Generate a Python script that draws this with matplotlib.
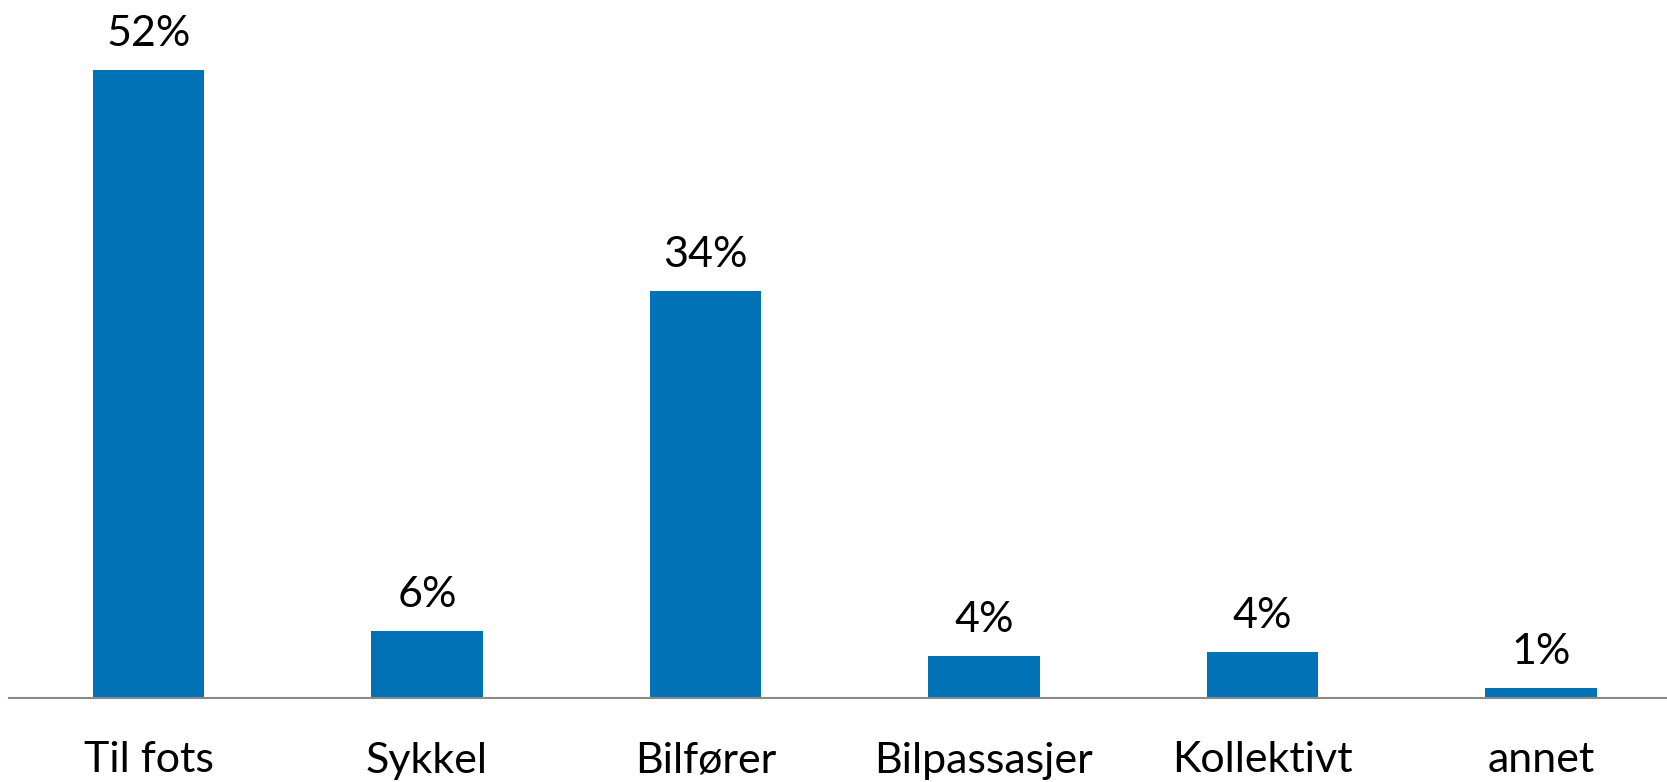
import matplotlib
matplotlib.use("Agg")
import matplotlib.pyplot as plt
import numpy as np

# share of trips by travel mode (%)
categories = ['Til fots', 'Sykkel', 'Bilfører', 'Bilpassasjer', 'Kollektivt', 'annet']
values = [52, 5.55, 33.7, 3.45, 3.8, 0.8]
labels = ['52%', '6%', '34%', '4%', '4%', '1%']

plt.rcParams['font.family'] = ['Lato', 'DejaVu Sans']

fig = plt.figure(figsize=(16.67, 7.82), dpi=100)
ax = fig.add_axes([9.2 / 1667, 84.5 / 782, 6 * 278.5 / 1667, 697.5 / 782])

x = np.arange(len(categories))
bars = ax.bar(x, values, width=0.4, color='#0072B5')

# value labels above each bar
for xi, v, lab in zip(x, values, labels):
    ax.annotate(lab, (xi, v), xytext=(0, 17), textcoords='offset points',
                ha='center', va='baseline', fontsize=31, color='#000000')

ax.set_xlim(-0.5, len(categories) - 0.5)
ax.set_ylim(0, 57.8)
ax.set_xticks(x)
ax.set_xticklabels(categories, fontsize=31)
plt.setp(ax.get_xticklabels(), va='baseline')
ax.tick_params(axis='x', length=0, pad=54)
ax.set_yticks([])

for s in ['top', 'right', 'left']:
    ax.spines[s].set_visible(False)
ax.spines['bottom'].set_color('#898989')
ax.spines['bottom'].set_linewidth(1.5)

fig.savefig('out.png', dpi=100)
